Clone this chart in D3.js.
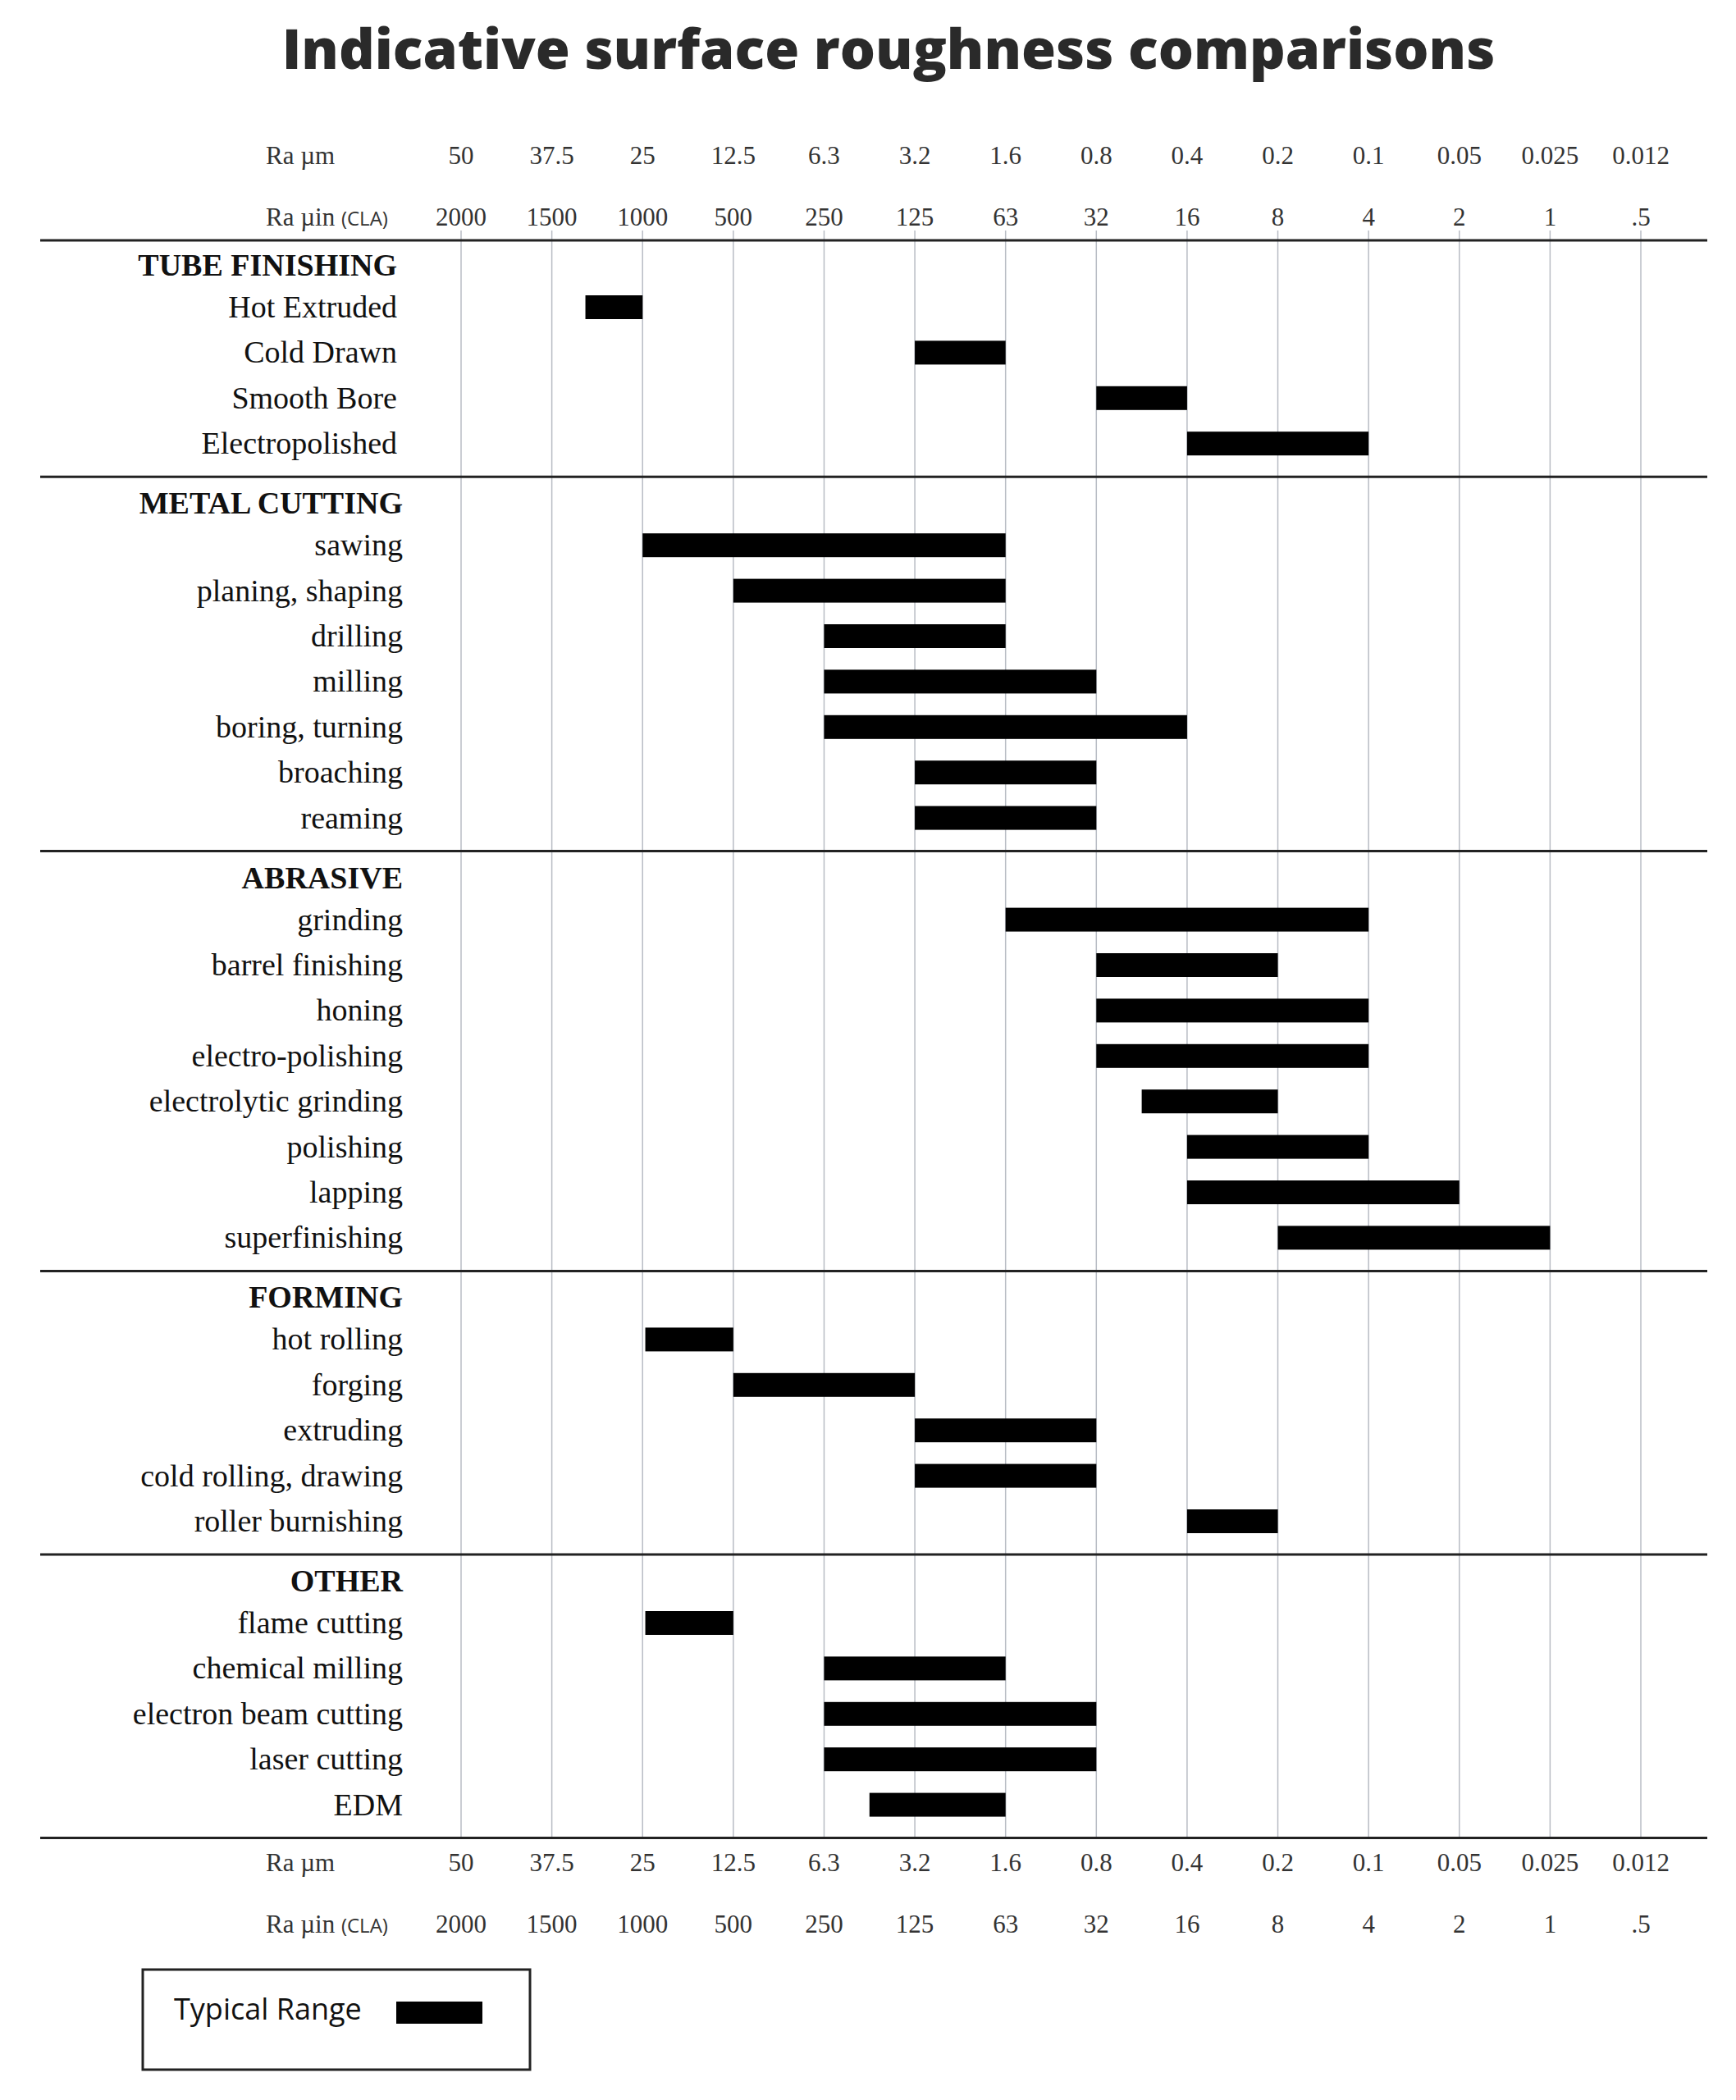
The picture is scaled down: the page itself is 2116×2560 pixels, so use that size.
<!DOCTYPE html>
<html><head><meta charset="utf-8">
<script src="https://cdn.jsdelivr.net/npm/d3@7"></script>
<style>body{margin:0;background:#fff}</style>
</head><body>
<svg id="chart" width="2116" height="2560"></svg>
<script>
// tick labels for each column
const raMicron = ["50","37.5","25","12.5","6.3","3.2","1.6","0.8","0.4","0.2","0.1","0.05","0.025","0.012"]
const raMicroinch = ["2000","1500","1000","500","250","125","63","32","16","8","4","2","1",".5"]

// groups and processes; ranges are column positions (0 = 50 µm)
const groups = ["TUBE FINISHING","METAL CUTTING","ABRASIVE","FORMING","OTHER"]
const tubeFinishing = [["Hot Extruded",1.37,2],["Cold Drawn",5,6],["Smooth Bore",7,8],["Electropolished",8,10]]
const metalCutting = [["sawing",2,6],["planing, shaping",3,6],["drilling",4,6],["milling",4,7],["boring, turning",4,8],["broaching",5,7],["reaming",5,7]]
const abrasive = [["grinding",6,10],["barrel finishing",7,9],["honing",7,10],["electro-polishing",7,10],["electrolytic grinding",7.5,9],["polishing",8,10],["lapping",8,11],["superfinishing",9,12]]
const forming = [["hot rolling",2.03,3],["forging",3,5],["extruding",5,7],["cold rolling, drawing",5,7],["roller burnishing",8,9]]
const other = [["flame cutting",2.03,3],["chemical milling",4,6],["electron beam cutting",4,7],["laser cutting",4,7],["EDM",4.5,6]]
const groupItems = [tubeFinishing, metalCutting, abrasive, forming, other]

const svg = d3.select("#chart")
const serif = "'Liberation Serif', 'DejaVu Serif', serif"
const sans = "'Open Sans', 'DejaVu Sans', sans-serif"

const x = d3.scaleLinear().domain([0, 13]).range([562, 2000])
const leftX = 49, rightX = 2081, topY = 293
const rowStep = 55.4

// layout rows
let yPos = topY + 30
const rules = [topY]
const layout = []
groups.forEach((g, gi) => {
  layout.push({type: "header", name: g, y: yPos, gi})
  yPos += 51
  groupItems[gi].forEach(d => {
    layout.push({type: "item", name: d[0], a: d[1], b: d[2], y: yPos, gi})
    yPos += rowStep
  })
  yPos = yPos - rowStep + 41
  rules.push(yPos)
  yPos += 32
})
const bottomY = rules[rules.length - 1]

// grid
svg.append("g").selectAll("line").data(d3.range(14)).join("line")
  .attr("x1", d => x(d)).attr("x2", d => x(d))
  .attr("y1", topY - 12).attr("y2", bottomY)
  .attr("stroke", "#b8bcc4").attr("stroke-width", 1.5)

// rules
svg.append("g").selectAll("line").data(rules).join("line")
  .attr("x1", leftX).attr("x2", rightX).attr("y1", d => d).attr("y2", d => d)
  .attr("stroke", "#222").attr("stroke-width", 3)

// title
svg.append("text").attr("x", 1083).attr("y", 84).attr("text-anchor", "middle")
  .attr("font-family", sans).attr("font-weight", 800).attr("font-size", 68)
  .attr("fill", "#2a2a2a").text("Indicative surface roughness comparisons")

// axis label rows
function axisRows(y1, y2) {
  const g = svg.append("g").attr("font-family", serif).attr("font-size", 31).attr("fill", "#333")
  g.append("text").attr("x", 324).attr("y", y1).text("Ra µm")
  const t = g.append("text").attr("x", 324).attr("y", y2)
  t.append("tspan").text("Ra µin ")
  t.append("tspan").attr("font-family", sans).attr("font-size", 24).text("(CLA)")
  g.selectAll(".um").data(raMicron).join("text").attr("class", "um")
    .attr("x", (d, i) => x(i)).attr("y", y1).attr("text-anchor", "middle").text(d => d)
  g.selectAll(".uin").data(raMicroinch).join("text").attr("class", "uin")
    .attr("x", (d, i) => x(i)).attr("y", y2).attr("text-anchor", "middle").text(d => d)
}
axisRows(200, 275)
axisRows(bottomY + 40, bottomY + 115)

// labels
svg.append("g").selectAll("text").data(layout).join("text")
  .attr("x", d => d.gi === 0 ? 484 : 491).attr("y", d => d.y + 13)
  .attr("text-anchor", "end").attr("font-family", serif)
  .attr("font-size", 38)
  .attr("font-weight", d => d.type === "header" ? "bold" : "normal")
  .attr("fill", "#111").text(d => d.name)

// bars
svg.append("g").selectAll("rect").data(layout.filter(d => d.type === "item")).join("rect")
  .attr("x", d => x(d.a)).attr("width", d => x(d.b) - x(d.a))
  .attr("y", d => d.y - 14).attr("height", 29).attr("fill", "#000")

// legend
const lg = svg.append("g")
lg.append("rect").attr("x", 174).attr("y", 2401).attr("width", 472).attr("height", 122)
  .attr("fill", "none").attr("stroke", "#222").attr("stroke-width", 3)
lg.append("text").attr("x", 212).attr("y", 2462).attr("font-family", sans).attr("font-size", 36)
  .attr("fill", "#111").text("Typical Range")
lg.append("rect").attr("x", 483).attr("y", 2440).attr("width", 105).attr("height", 27).attr("fill", "#000")
</script>
</body></html>
